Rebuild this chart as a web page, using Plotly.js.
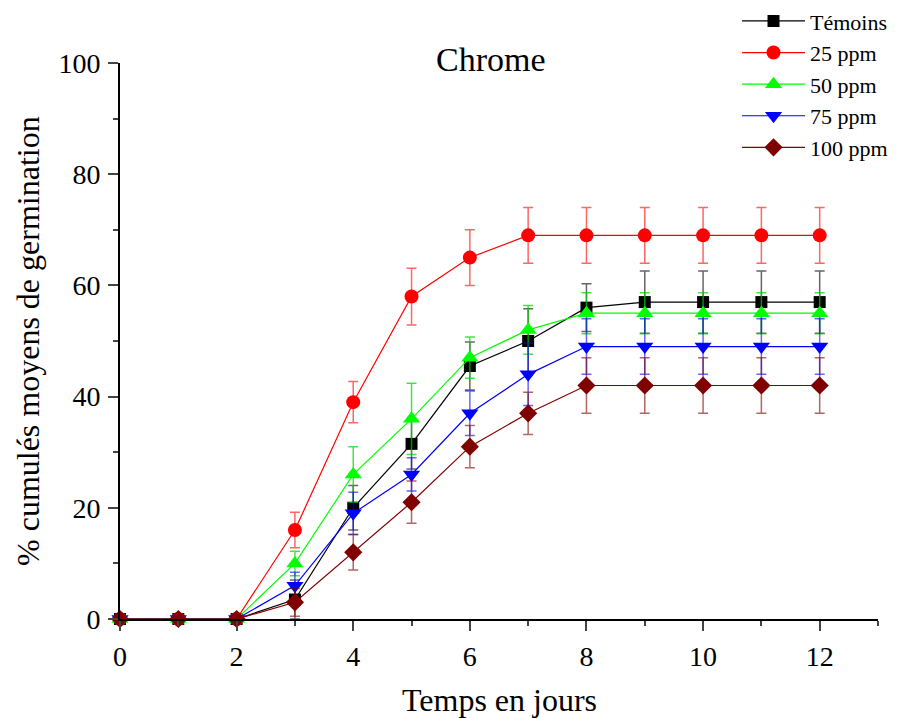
<!DOCTYPE html>
<html>
<head>
<meta charset="utf-8">
<script src="https://cdn.plot.ly/plotly-3.0.1.min.js"></script>
<style>html,body{margin:0;padding:0;background:#fff;}#chart{width:903px;height:718px;}</style>
</head>
<body>
<div id="chart"></div>
<script>
const days = [0,1,2,3,4,5,6,7,8,9,10,11,12];
const seriesNames = ["Témoins","25 ppm","50 ppm","75 ppm","100 ppm"];
const temoins   = [0,0,0,3.5,20,31.5,45.5,50,56,57,57,57,57];
const temoinsErr= [0,0,0,3.5,4,4.5,4.3,5.8,4.3,5.6,5.6,5.6,5.6];
const ppm25     = [0,0,0,16,39,58,65,69,69,69,69,69,69];
const ppm25Err  = [0,0,0,3.2,3.7,5.1,5,5,5,5,5,5,5];
const ppm50     = [0,0,0,10,26,36,47,52,55,55,55,55,55];
const ppm50Err  = [0,0,0,2.2,5,6.4,3.7,4.4,3.7,3.7,3.7,3.7,3.7];
const ppm75     = [0,0,0,6,19,26,37,44,49,49,49,49,49];
const ppm75Err  = [0,0,0,2.4,3.8,3,4,5.6,5,5,5,5,5];
const ppm100    = [0,0,0,3,12,21,31,37,42,42,42,42,42];
const ppm100Err = [0,0,0,2.5,3.2,3.8,3.8,3.8,5,5,5,5,5];

const ys = [temoins, ppm25, ppm50, ppm75, ppm100];
const errs = [temoinsErr, ppm25Err, ppm50Err, ppm75Err, ppm100Err];
const colors = ["#000000","#ff0000","#00ff00","#0000ff","#800000"];
const errColors = ["rgba(0,0,0,0.6)","rgba(255,0,0,0.6)","rgba(0,210,0,0.7)","rgba(0,0,255,0.6)","rgba(128,0,0,0.6)"];
const symbols = ["square","circle","triangle-up","triangle-down","diamond"];
const sizes = [12,14,15,15,14];

const traces = ys.map((y,i)=>({
  x: days, y: y, name: seriesNames[i], type: "scatter", mode: "lines+markers",
  cliponaxis: false,
  line: {color: colors[i], width: 1.2},
  marker: {symbol: symbols[i], color: colors[i], size: sizes[i], line: {width: 0}},
  error_y: {type: "data", array: errs[i], visible: true, color: errColors[i], thickness: 1.5, width: 5}
}));

const font = "Liberation Serif, Times New Roman, serif";
const layout = {
  width: 903, height: 718,
  margin: {l: 120, r: 25, t: 63, b: 99, autoexpand: false},
  paper_bgcolor: "#fff", plot_bgcolor: "#fff",
  font: {family: font, color: "#000", size: 22},
  showlegend: true,
  legend: {x: 0.814, xanchor: "left", y: 1.113, yanchor: "top", xref: "paper", yref: "paper",
           font: {family: font, size: 22, color: "#000"}, itemwidth: 63, tracegroupgap: 0,
           bgcolor: "rgba(0,0,0,0)"},
  xaxis: {range: [0, 13], tickmode: "linear", tick0: 0, dtick: 2, ticks: "outside", ticklen: 10, tickwidth: 2,
          showline: true, linewidth: 2, linecolor: "#000", showgrid: false, zeroline: false,
          minor: {dtick: 1, tick0: 0, ticks: "outside", ticklen: 5, tickwidth: 2, showgrid: false},
          tickfont: {family: font, size: 28}, ticklabelstandoff: 1},
  yaxis: {range: [0, 100], tickmode: "linear", tick0: 0, dtick: 20, ticks: "outside", ticklen: 10, tickwidth: 2,
          showline: true, linewidth: 2, linecolor: "#000", showgrid: false, zeroline: false,
          minor: {dtick: 10, tick0: 0, ticks: "outside", ticklen: 5, tickwidth: 2, showgrid: false},
          tickfont: {family: font, size: 28}, ticklabelstandoff: 2},
  annotations: [
    {text: "Chrome", xref: "paper", yref: "paper", x: 0.489, y: 1.0054, xanchor: "center", yanchor: "middle",
     showarrow: false, font: {family: font, size: 34, color: "#000"}},
    {text: "Temps en jours", xref: "paper", yref: "paper", x: 0.5, y: -0.1457, xanchor: "center", yanchor: "middle",
     showarrow: false, font: {family: font, size: 32, color: "#000"}},
    {text: "% cumulés moyens de germination", xref: "paper", yref: "paper", x: -0.1214, y: 0.5, xanchor: "center", yanchor: "middle",
     textangle: -90, showarrow: false, font: {family: font, size: 32, color: "#000"}}
  ]
};
Plotly.newPlot("chart", traces, layout, {displayModeBar: false, staticPlot: true});
</script>
</body>
</html>
